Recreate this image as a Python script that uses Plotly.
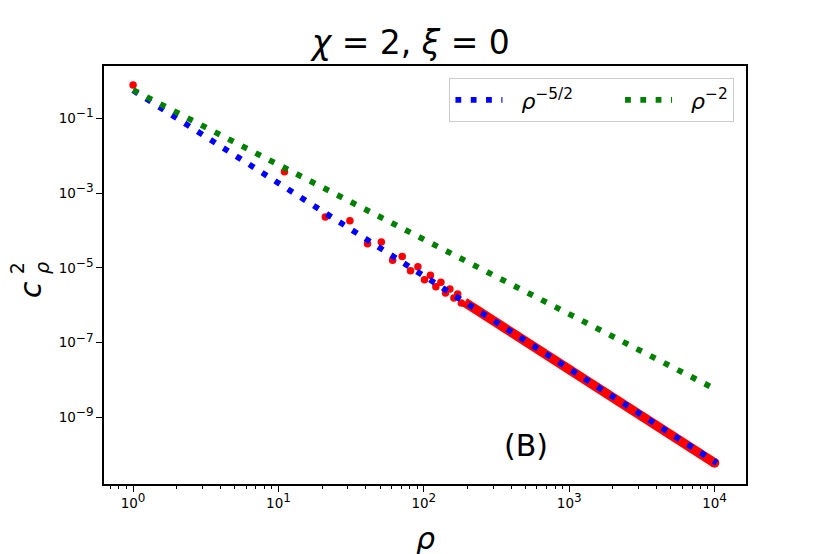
import plotly.graph_objects as go

# ---- data ----
rho_points = [1, 11, 21, 31, 41, 51, 61, 71, 81, 91, 101, 111, 121, 131, 141, 151, 161, 171, 181]
c2_points = [0.78, 3.7e-3, 2.3e-4, 1.8e-4, 4.4e-5, 4.9e-5, 1.6e-5, 2.0e-5, 8.3e-6, 1.07e-5,
             4.8e-6, 6.3e-6, 3.1e-6, 4.1e-6, 2.1e-6, 2.7e-6, 1.55e-6, 2.0e-6, 1.15e-6]

# dense part of the data (points merge into a band)
rho_band = [191, 300, 500, 1000, 2000, 5000, 10001]
c2_band = [1.2e-6, 3.9e-7, 1.07e-7, 1.9e-8, 3.4e-9, 3.4e-10, 6.0e-11]

# reference power laws (straight lines on log-log axes)
rho_line = [1, 10350]
c2_blue = [0.56, 6.0e-11]     # rho^-5/2
c2_green = [0.57, 5.4e-9]     # rho^-2

x_tickvals = [1, 10, 100, 1000, 10000]
x_ticktext = ["10<sup><span style='font-size:12px'>%d</span></sup>" % k for k in range(5)]
y_tickvals = [1e-1, 1e-3, 1e-5, 1e-7, 1e-9]
y_ticktext = ["10<sup><span style='font-size:12px'>\u2212%d</span></sup>" % k for k in (1, 3, 5, 7, 9)]
x_minor = [m * 10 ** k for k in range(-1, 5) for m in range(2, 10)]

FONT = "DejaVu Sans"
RED, BLUE, GREEN = "#ff0000", "#0000ff", "#008000"
DOT = "5.8px,9.5px"
NB = "\u00a0"

fig = go.Figure()

fig.add_trace(go.Scatter(x=rho_band, y=c2_band, mode="lines",
                         line=dict(color=RED, width=9.5), showlegend=False, hoverinfo="skip"))
fig.add_trace(go.Scatter(x=[rho_band[-1]], y=[c2_band[-1]], mode="markers",
                         marker=dict(color=RED, size=9.5, line=dict(width=0)), showlegend=False))
fig.add_trace(go.Scatter(x=rho_points, y=c2_points, mode="markers",
                         marker=dict(color=RED, size=7.5, line=dict(width=0)), showlegend=False))
fig.add_trace(go.Scatter(x=rho_line, y=c2_blue, mode="lines",
                         name=NB * 2 + "<i>\u03c1</i><sup>\u22125/2</sup>" + NB * 6,
                         line=dict(color=BLUE, width=5.8, dash=DOT)))
fig.add_trace(go.Scatter(x=rho_line, y=c2_green, mode="lines",
                         name=NB * 2 + "<i>\u03c1</i><sup>\u22122</sup>",
                         line=dict(color=GREEN, width=5.8, dash=DOT)))

axis_common = dict(showline=True, linecolor="black", linewidth=1.5, mirror=True,
                   showgrid=False, zeroline=False, ticks="outside", ticklen=6,
                   tickwidth=1.3, tickcolor="black",
                   tickfont=dict(family=FONT, size=13.5, color="black"))

fig.update_xaxes(type="log", range=[-0.2, 4.216], tickmode="array",
                 tickvals=x_tickvals, ticktext=x_ticktext,
                 minor=dict(ticks="outside", ticklen=3.5, tickwidth=1, tickcolor="black",
                            tickmode="array", tickvals=x_minor, showgrid=False),
                 **axis_common)
fig.update_yaxes(type="log", range=[-10.785, 0.399], tickmode="array",
                 tickvals=y_tickvals, ticktext=y_ticktext, **axis_common)

# page body has an 8px default margin: figure is 822x546 drawn at (8, 8)
W, H = 822, 546
PL, PT, PW, PH = 95.5, 58, 643, 418


def px(xf):
    return (xf - PL) / PW


def py(yf):
    return (PT + PH - yf) / PH


fig.update_layout(
    width=W, height=H,
    margin=dict(l=PL, r=W - PL - PW, t=PT, b=H - PT - PH, pad=0),
    paper_bgcolor="white", plot_bgcolor="white",
    font=dict(family=FONT, color="black"),
    title=dict(text="<i>\u03c7</i> = 2, <i>\u03be</i> = 0", x=0.49, xanchor="center",
               y=1 - 34 / H, yanchor="middle", yref="container",
               font=dict(family=FONT, size=33, color="black")),
    legend=dict(orientation="h", x=0.982, xanchor="right", y=0.971, yanchor="top",
                bgcolor="white", bordercolor="#cccccc", borderwidth=1,
                itemwidth=47,
                font=dict(family=FONT, size=22, color="black")),
    showlegend=True,
)

fig.add_annotation(text="<i>\u03c1</i>", xref="paper", yref="paper", x=0.5, y=py(530),
                   xanchor="center", yanchor="middle", showarrow=False,
                   font=dict(family=FONT, size=30, color="black"))
# y-axis label c_rho^2 (sub- and superscript stacked, as in the reference)
fig.add_annotation(text="<i>c</i>", xref="paper", yref="paper", x=px(21.5), y=py(282),
                   xanchor="center", yanchor="middle", textangle=-90,
                   showarrow=False, font=dict(family=FONT, size=30, color="black"))
fig.add_annotation(text="<i>\u03c1</i>", xref="paper", yref="paper", x=px(33.5), y=py(260),
                   xanchor="center", yanchor="middle", textangle=-90,
                   showarrow=False, font=dict(family=FONT, size=19, color="black"))
fig.add_annotation(text="2", xref="paper", yref="paper", x=px(8.5), y=py(260),
                   xanchor="center", yanchor="middle", textangle=-90,
                   showarrow=False, font=dict(family=FONT, size=19, color="black"))
fig.add_annotation(text="(B)", xref="paper", yref="paper", x=0.657, y=0.091,
                   xanchor="center", yanchor="middle", showarrow=False,
                   font=dict(family=FONT, size=30, color="black"))

fig.write_html("out.html")
